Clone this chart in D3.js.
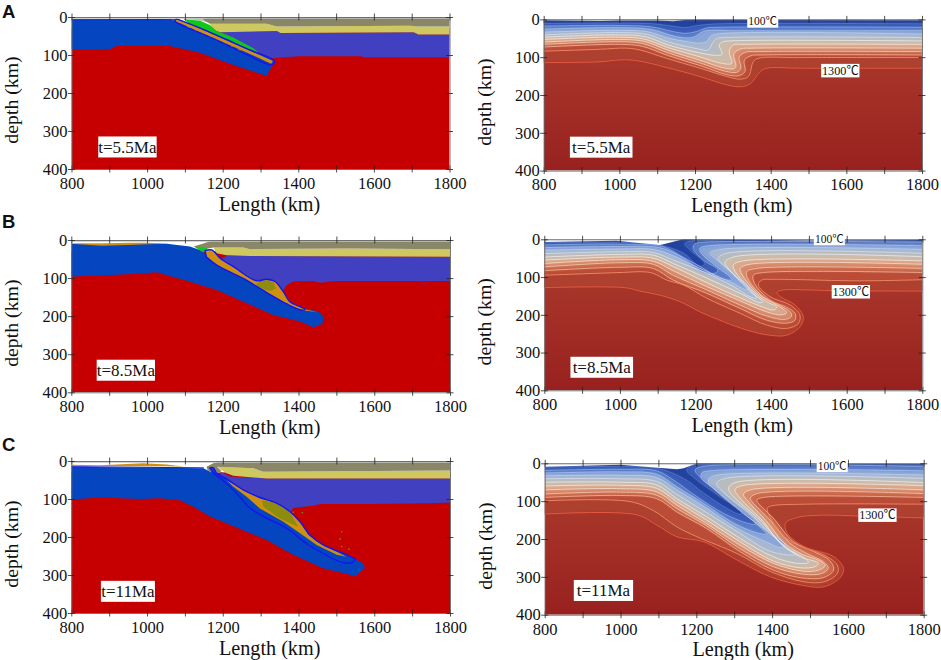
<!DOCTYPE html>
<html><head><meta charset="utf-8">
<script src="https://cdn.jsdelivr.net/npm/d3@7/dist/d3.min.js"></script>
<style>html,body{margin:0;padding:0;background:#fff}svg{display:block}</style>
</head><body><svg id="chart" width="941" height="660"></svg>
<script>
// ---------- axis values ----------
const xTicks = [800,900,1000,1100,1200,1300,1400,1500,1600,1700,1800];
const xLabels = [800,1000,1200,1400,1600,1800];
const depthTicks = [0,100,200,300,400];
const timesLabels = ["t=5.5Ma","t=8.5Ma","t=11Ma"];
const isoLabels = ["100℃","1300℃"];
const panelLetters = ["A","B","C"];

// ---------- composition panels: [length km, depth km] ----------
const purpleA = [[1193,40],[1343,37],[1353,42],[1705,40],[1718,46],[1800,46],[1800,106],[1572,106],[1568,103],[1405,103],[1360,106],[1320,110],[1250,80],[1190,50]];
const yellowA = [[1166,18],[1316,18],[1343,25],[1696,23],[1714,25],[1800,25],[1800,46],[1718,46],[1705,40],[1353,42],[1343,37],[1193,40],[1175,34]];
const lightA = [[1095,4],[1149,2],[1193,0],[1193,10],[1160,14],[1140,10]];
const greyA = [[1149,3],[1193,0],[1800,0],[1800,25],[1714,25],[1696,23],[1343,25],[1316,18],[1166,18],[1149,8]];
const blueA = [[800,7],[1040,6],[1090,8],[1150,36],[1210,65],[1270,90],[1335,115],[1332,126],[1316,155],[1270,140],[1228,126],[1140,94],[1060,76],[919,76],[901,85],[800,85]];
const greenA = [[1096,5],[1140,10],[1166,21],[1184,37],[1228,54],[1281,82],[1294,93],[1250,78],[1170,42],[1110,17]];
const orangeA = [[1065,7],[1085,7],[1150,35],[1210,62],[1270,88],[1333,116],[1328,123],[1265,94],[1200,66],[1140,40],[1090,17],[1075,12]];
const outlineA = [[1078,5],[1150,33],[1210,59],[1270,86],[1334,113],[1337,120],[1328,126],[1262,98],[1195,66],[1135,40],[1085,19],[1072,10]];
const dashA = [[1105,25],[1148,45],[1184,60],[1260,95]];
const surfaceLineA = [[800,7],[1078,7]];

const purpleB = [[1210,42],[1272,42],[1800,44],[1800,108],[1492,108],[1457,112],[1440,108],[1386,109],[1369,118],[1355,140],[1300,118],[1210,78],[1185,55]];
const yellowB = [[1175,20],[1254,20],[1272,24],[1536,22],[1800,24],[1800,44],[1272,42],[1210,40],[1184,35]];
const greyB = [[1122,17],[1149,9],[1175,0],[1800,0],[1800,24],[1536,22],[1272,24],[1254,20],[1175,20],[1150,24]];
const blueB = [[800,10],[1052,10],[1113,17],[1140,26],[1175,52],[1263,100],[1351,144],[1404,177],[1452,188],[1465,201],[1464,220],[1439,229],[1404,214],[1333,197],[1263,166],[1184,131],[1105,107],[1025,85],[964,89],[858,94],[800,96]];
const greenB = [[1125,18],[1145,18],[1160,22],[1155,32],[1145,30],[1135,24]];
const orangeB = [[1153,28],[1171,26],[1193,48],[1228,70],[1289,107],[1316,103],[1338,109],[1360,136],[1377,162],[1417,182],[1450,190],[1408,184],[1369,168],[1316,138],[1254,101],[1184,66],[1157,45]];
const oliveB = [[1285,118],[1300,108],[1320,106],[1335,112],[1340,128],[1325,134],[1310,130]];
const outlineB = [[1153,28],[1171,26],[1193,48],[1228,70],[1289,107],[1316,103],[1338,109],[1360,136],[1377,162],[1417,182],[1408,184],[1369,168],[1316,138],[1254,101],[1184,66],[1157,45]];
const sedimentB = [[800,9],[880,9],[950,7],[1000,7],[1060,10],[1000,11],[950,13],[880,15],[800,10]];
const speckB = [[1722,113],[1738,113],[1736,116],[1724,116]];

const purpleC = [[1195,28],[1219,41],[1316,46],[1800,46],[1800,109],[1740,111],[1580,113],[1457,113],[1439,118],[1386,123],[1377,140],[1340,125],[1250,85],[1190,50]];
const yellowC = [[1184,15],[1281,19],[1307,28],[1800,25],[1800,46],[1316,46],[1228,39],[1210,32],[1197,24]];
const greyC = [[1157,15],[1175,6],[1193,0],[1800,0],[1800,25],[1307,28],[1281,19],[1184,15],[1197,26],[1180,36],[1160,24]];
const blueC = [[800,15],[1149,19],[1175,32],[1267,103],[1369,177],[1492,243],[1545,256],[1571,269],[1575,282],[1558,296],[1553,304],[1523,296],[1465,282],[1386,247],[1316,208],[1263,186],[1166,146],[1131,125],[1087,103],[1034,98],[981,100],[876,96],[800,101]];
const orangeC = [[1210,50],[1254,76],[1298,98],[1342,111],[1377,133],[1404,160],[1426,195],[1465,221],[1527,252],[1501,247],[1448,221],[1404,190],[1360,160],[1298,125],[1263,94],[1228,68]];
const oliveC = [[1303,103],[1342,111],[1377,133],[1399,173],[1351,151],[1307,120]];
const outlineC = [[1166,18],[1175,18],[1184,32],[1210,47],[1254,76],[1298,96],[1342,111],[1377,133],[1404,160],[1430,195],[1465,221],[1527,247],[1549,260],[1536,269],[1509,265],[1465,243],[1421,217],[1369,177],[1307,146],[1267,120],[1245,94],[1210,59],[1175,32]];
const sedimentC = [[800,10],[876,11],[990,6],[1052,9],[1100,15],[1050,14],[900,14],[800,14]];
const surfaceLineC = [[800,15],[1150,18]];
const specksC = [[1514,186],[1510,205],[1514,225],[1533,232],[1386,135],[1410,136]];

// ---------- thermal panels: isotherms from coldest to 1300 C ----------
const isoA = [
 [[800,11],[1000,10],[1090,12],[1140,18],[1175,22],[1210,16],[1260,12],[1800,12]],
 [[800,18],[1000,16],[1085,20],[1140,32],[1175,37],[1205,32],[1230,23],[1270,21],[1800,21]],
 [[800,26],[1000,22],[1085,27],[1151,46],[1195,48],[1222,32],[1248,29],[1300,30],[1800,30]],
 [[800,34],[1000,29],[1075,33],[1130,50],[1178,59],[1213,63],[1233,58],[1240,46],[1258,39],[1800,39]],
 [[800,41],[1000,35],[1075,40],[1130,60],[1204,77],[1235,81],[1246,63],[1257,51],[1285,48],[1800,48]],
 [[800,47],[1000,41],[1070,46],[1130,68],[1210,88],[1255,95],[1272,92],[1264,68],[1272,60],[1292,57],[1800,57]],
 [[800,53],[1000,47],[1065,52],[1130,75],[1213,99],[1270,116],[1297,116],[1290,85],[1300,68],[1330,66],[1800,66]],
 [[800,60],[1000,53],[1065,58],[1130,82],[1213,108],[1275,128],[1303,130],[1308,122],[1302,92],[1320,78],[1350,76],[1800,76]],
 [[800,66],[1000,59],[1062,64],[1130,89],[1213,115],[1280,137],[1310,140],[1321,128],[1316,100],[1333,87],[1370,85],[1800,85]],
 [[800,73],[1000,66],[1060,71],[1130,96],[1213,122],[1284,146],[1315,149],[1332,138],[1330,108],[1348,96],[1380,94],[1800,94]],
 [[800,84],[949,79],[1019,76],[1055,81],[1125,103],[1213,129],[1284,151],[1319,158],[1341,151],[1354,112],[1367,103],[1477,101],[1800,101]],
 [[800,114],[949,112],[1002,107],[1046,109],[1125,127],[1213,151],[1284,173],[1319,178],[1345,171],[1372,138],[1389,129],[1477,129],[1800,129]]
];
const isoB = [
 [[800,9],[1000,8],[1088,12],[1168,37],[1203,68],[1216,72],[1225,64],[1186,28],[1172,12],[1194,4],[1300,6],[1800,6]],
 [[800,15],[1000,13],[1115,20],[1168,50],[1221,86],[1252,90],[1260,81],[1221,55],[1194,24],[1199,12],[1221,8],[1800,8]],
 [[800,22],[1000,19],[1088,20],[1124,28],[1212,72],[1265,103],[1296,108],[1291,99],[1256,72],[1216,37],[1212,24],[1238,17],[1800,17]],
 [[800,29],[1000,26],[1088,27],[1141,44],[1221,81],[1300,117],[1335,134],[1340,127],[1309,99],[1252,50],[1238,37],[1265,27],[1800,27]],
 [[800,38],[1000,33],[1088,35],[1141,55],[1230,90],[1300,125],[1344,152],[1362,156],[1358,148],[1318,108],[1265,59],[1260,50],[1283,37],[1800,37]],
 [[800,47],[1000,40],[1088,42],[1141,64],[1230,103],[1318,143],[1371,168],[1378,165],[1350,143],[1287,77],[1278,61],[1305,46],[1800,46]],
 [[800,55],[1000,47],[1088,50],[1141,72],[1230,115],[1318,155],[1380,180],[1406,187],[1415,180],[1388,165],[1358,143],[1305,86],[1300,68],[1327,57],[1800,57]],
 [[800,64],[1000,54],[1088,58],[1141,83],[1230,125],[1318,163],[1388,192],[1428,200],[1441,194],[1432,185],[1402,167],[1364,143],[1322,92],[1318,77],[1344,66],[1800,66]],
 [[800,73],[1000,62],[1088,66],[1141,95],[1230,134],[1318,174],[1388,203],[1437,212],[1454,203],[1450,192],[1424,176],[1384,156],[1340,108],[1335,86],[1362,77],[1800,77]],
 [[800,83],[1000,74],[1088,77],[1141,108],[1230,143],[1318,183],[1388,214],[1441,222],[1463,214],[1463,196],[1441,180],[1400,163],[1356,117],[1353,95],[1380,88],[1800,88]],
 [[800,95],[1000,88],[1062,86],[1088,90],[1124,108],[1168,121],[1230,156],[1318,196],[1388,227],[1441,236],[1472,223],[1476,200],[1450,174],[1397,152],[1366,121],[1375,108],[1406,106],[1635,110],[1800,107]],
 [[800,128],[1013,128],[1053,137],[1106,148],[1159,165],[1212,192],[1274,218],[1335,240],[1397,254],[1441,254],[1477,231],[1485,205],[1463,174],[1424,152],[1415,141],[1432,134],[1494,134],[1565,136],[1800,137]]
];
const isoC = [
 [[800,10],[1000,9],[1095,13],[1166,40],[1219,79],[1280,119],[1315,135],[1322,130],[1263,88],[1197,40],[1175,18],[1192,5],[1300,5],[1800,5]],
 [[800,19],[1000,16],[1095,20],[1139,44],[1201,88],[1271,132],[1333,158],[1357,161],[1351,150],[1289,101],[1219,44],[1197,18],[1214,9],[1800,9]],
 [[800,26],[1000,23],[1095,29],[1148,62],[1219,106],[1298,158],[1351,181],[1387,188],[1377,176],[1315,123],[1241,62],[1214,40],[1214,26],[1236,20],[1800,20]],
 [[800,33],[1000,32],[1095,38],[1148,70],[1227,119],[1307,172],[1386,209],[1425,223],[1434,214],[1403,190],[1335,141],[1255,75],[1232,50],[1235,40],[1258,31],[1800,31]],
 [[800,41],[1000,41],[1095,48],[1148,82],[1227,130],[1315,185],[1386,229],[1439,242],[1465,240],[1443,225],[1394,185],[1351,141],[1271,75],[1254,53],[1276,40],[1800,40]],
 [[800,50],[1000,50],[1095,57],[1148,93],[1227,141],[1315,198],[1403,247],[1465,264],[1496,262],[1487,251],[1439,225],[1403,189],[1368,150],[1298,88],[1285,66],[1302,51],[1800,51]],
 [[800,60],[1000,58],[1095,66],[1148,101],[1227,150],[1315,207],[1403,258],[1474,276],[1513,273],[1522,264],[1474,247],[1421,211],[1377,154],[1315,92],[1302,70],[1320,59],[1800,59]],
 [[800,70],[1000,67],[1095,75],[1148,110],[1227,159],[1315,216],[1403,264],[1483,285],[1522,282],[1540,270],[1526,258],[1474,238],[1430,209],[1386,154],[1337,101],[1324,82],[1342,70],[1800,70]],
 [[800,81],[1000,76],[1095,84],[1148,119],[1227,165],[1315,225],[1403,273],[1483,293],[1531,291],[1548,277],[1535,260],[1491,238],[1447,211],[1394,150],[1351,106],[1342,92],[1359,80],[1800,80]],
 [[800,90],[1000,85],[1095,93],[1148,128],[1227,172],[1315,233],[1403,282],[1474,302],[1535,302],[1562,282],[1553,258],[1509,233],[1456,207],[1403,145],[1364,106],[1359,97],[1377,90],[1800,90]],
 [[800,99],[1025,101],[1087,125],[1149,168],[1202,194],[1307,238],[1396,286],[1484,313],[1537,313],[1572,291],[1572,269],[1537,242],[1467,216],[1422,185],[1387,119],[1396,113],[1484,108],[1800,108]],
 [[800,134],[1043,136],[1096,163],[1149,194],[1219,207],[1307,255],[1396,300],[1484,323],[1537,326],[1581,300],[1588,277],[1563,247],[1484,220],[1440,185],[1435,158],[1466,143],[1528,137],[1650,140],[1800,144]]
];
const surfaceA = [[800,2],[950,4],[1000,3],[1100,3],[1143,5],[1178,1],[1800,2]];
const surfaceB = [[800,7],[991,4],[1106,15],[1123,11],[1167,0],[1500,3],[1800,2]];
const surfaceC = [[800,9],[999,4],[1149,16],[1167,13],[1202,0],[1800,2]];

// ---------- styling ----------
const C = {red:"#c60000",blue:"#0545c0",purple:"#4040c0",yellow:"#cfc860",grey:"#8a8668",light:"#c2c0b4",green:"#10c818",orange:"#d0900f",olive:"#8e8c0e",line:"#1414f4"};
const bandColors = ["#ad3f2e","#bb4e38","#cb6a4e","#d88a6c","#dca88c","#ccbcaa","#b8bcc0","#a8b8d0","#8aa5d8","#5a7dc8","#3a5cb8","#24429f"]; // hottest region first
const lineColors = ["#5a7fd0","#8fb0ea","#a8c4f0","#bcd2f4","#d6e2f6","#eef0f2","#f4efe8","#f8e4d6","#f8d0b8","#f6b598","#f08a68","#e85c42"];
const lineOpacity = [.82,.82,.82,.82,.82,.82,.82,.82,.82,.9,1,1];
const serif = "'Liberation Serif','Noto Sans CJK SC',serif";

const panels = [
 {kind:"comp",x0:71.5,x1:449.5,y0:17,y1:169,row:0,t:[948,342],tw:58.4,
  purple:purpleA,yellow:yellowA,light:lightA,grey:greyA,blue:blueA,green:greenA,orange:orangeA,outline:outlineA,dash:dashA,sline:surfaceLineA},
 {kind:"heat",x0:543.7,x1:922,y0:19.4,y1:170.6,row:0,t:[952,338],tw:62.6,iso:isoA,surf:surfaceA,l100:[1379,5],l1300:[1584,135.5]},
 {kind:"comp",x0:71.3,x1:450,y0:240,y1:392.3,row:1,t:[944,342],tw:58.3,
  purple:purpleB,yellow:yellowB,grey:greyB,blue:blueB,green:greenB,orange:orangeB,olive:oliveB,outline:outlineB,sediment:sedimentB,speck:speckB},
 {kind:"heat",x0:544.3,x1:922.3,y0:239.3,y1:390.3,row:1,t:[952,339],tw:62.6,iso:isoB,surf:surfaceB,l100:[1554,-1],l1300:[1611,139]},
 {kind:"comp",x0:71.3,x1:450,y0:461,y1:613,row:2,t:[949.5,343],tw:54,
  purple:purpleC,yellow:yellowC,grey:greyC,blue:blueC,orange:orangeC,olive:oliveC,outline:outlineC,sediment:sedimentC,sline:surfaceLineC,specks:specksC},
 {kind:"heat",x0:544.7,x1:923.7,y0:463.3,y1:614.7,row:2,t:[955,336],tw:59.3,iso:isoC,surf:surfaceC,l100:[1558.6,6.6],l1300:[1678,137]}
];

const svg = d3.select("#chart");
const defs = svg.append("defs");
const grad = defs.append("linearGradient").attr("id","hot").attr("x1",0).attr("x2",0).attr("y1",0).attr("y2",1);
grad.append("stop").attr("offset","0%").attr("stop-color","#ae3e2e");
grad.append("stop").attr("offset","100%").attr("stop-color","#98211f");
defs.append("filter").attr("id","soft").attr("x","-5%").attr("y","-20%").attr("width","110%").attr("height","140%")
  .append("feGaussianBlur").attr("stdDeviation",1.3);

panels.forEach((p,i)=>{
  const x = d3.scaleLinear().domain([800,1800]).range([p.x0,p.x1]);
  const y = d3.scaleLinear().domain([0,400]).range([p.y0,p.y1]);
  const g = svg.append("g");
  const clipId = "clip"+i;
  defs.append("clipPath").attr("id",clipId).append("rect")
    .attr("x",p.x0).attr("y",p.y0).attr("width",p.x1-p.x0).attr("height",p.y1-p.y0);
  const plot = g.append("g").attr("clip-path",`url(#${clipId})`);
  const straight = d3.line().x(d=>x(d[0])).y(d=>y(d[1]));
  const smooth = d3.line().x(d=>x(d[0])).y(d=>y(d[1])).curve(d3.curveCatmullRom.alpha(0.5));
  const poly = (pts,fill)=>plot.append("path").attr("d",straight(pts)+"Z").attr("fill",fill);

  if(p.kind==="comp"){
    plot.append("rect").attr("x",x(800)).attr("y",y(30)).attr("width",x(1800)-x(800)).attr("height",y(400)-y(30)).attr("fill",C.red);
    poly(p.purple,C.purple); poly(p.yellow,C.yellow);
    if(p.light) poly(p.light,C.light);
    poly(p.grey,C.grey); poly(p.blue,C.blue);
    if(p.sediment) poly(p.sediment,C.orange);
    if(p.speck) poly(p.speck,C.blue);
    if(p.green) poly(p.green,C.green);
    if(p.sline) plot.append("path").attr("d",straight(p.sline)).attr("fill","none").attr("stroke",C.line).attr("stroke-width",1);
    plot.append("path").attr("d",smooth(p.outline)+"Z").attr("fill",C.blue);
    poly(p.orange,C.orange);
    if(p.olive) poly(p.olive,C.olive);
    if(p.dash) plot.append("path").attr("d",straight(p.dash)).attr("fill","none").attr("stroke",C.orange).attr("stroke-width",1.2).attr("stroke-dasharray","3,5");
    plot.append("path").attr("d",smooth(p.outline)+"Z").attr("fill","none").attr("stroke",C.line).attr("stroke-width",1.4);
    if(p.specks) plot.selectAll("circle.sp").data(p.specks).join("circle").attr("cx",d=>x(d[0])).attr("cy",d=>y(d[1])).attr("r",0.8).attr("fill",C.olive);
    plot.append("line").attr("x1",x(800)).attr("x2",x(1800)).attr("y1",y(0)+1).attr("y2",y(0)+1).attr("stroke","#c4c4c4").attr("stroke-width",1.6);
  } else {
    plot.append("rect").attr("x",x(800)).attr("y",y(0)).attr("width",x(1800)-x(800)).attr("height",y(400)-y(0)).attr("fill","url(#hot)");
    const fills = plot.append("g").attr("filter","url(#soft)");
    const region = c=>{
      const a=c[0], b=c[c.length-1];
      return smooth(c)+`L${x(1830)},${y(b[1])}L${x(1830)},${y(-40)}L${x(770)},${y(-40)}L${x(770)},${y(a[1])}Z`;
    };
    p.iso.slice().reverse().forEach((c,k)=>fills.append("path").attr("d",region(c)).attr("fill",bandColors[k]));
    p.iso.forEach((c,k)=>plot.append("path").attr("d",smooth(c)).attr("fill","none").attr("stroke",lineColors[k]).attr("stroke-width",0.9).attr("stroke-opacity",lineOpacity[k]));
    plot.append("path").attr("d",straight(p.surf)+`L${x(1830)},${y(-40)}L${x(770)},${y(-40)}Z`).attr("fill","#fff");
  }

  // axes
  const cross = (sel,a1,a2)=>sel.selectAll(".tick line").attr(a1,-3.5).attr(a2,3.5);
  const fmt = d=>xLabels.includes(d)?d:"";
  const styleAxis = a=>{
    a.attr("font-family",serif).attr("font-size",16.5);
    a.select(".domain").attr("stroke","#666").attr("stroke-width",0.9);
    a.selectAll(".tick line").attr("stroke","#222").attr("stroke-width",0.8);
    a.selectAll("text").attr("fill","#111");
  };
  const axB = g.append("g").attr("transform",`translate(0,${p.y1})`).call(d3.axisBottom(x).tickValues(xTicks).tickFormat(fmt).tickSize(3.5).tickSizeOuter(0).tickPadding(4.6));
  const axT = g.append("g").attr("transform",`translate(0,${p.y0})`).call(d3.axisTop(x).tickValues(xTicks).tickFormat("").tickSize(3.5).tickSizeOuter(0));
  const axL = g.append("g").attr("transform",`translate(${p.x0},0)`).call(d3.axisLeft(y).tickValues(depthTicks).tickSize(3.5).tickSizeOuter(0).tickPadding(0.5));
  const axR = g.append("g").attr("transform",`translate(${p.x1},0)`).call(d3.axisRight(y).tickValues(depthTicks).tickFormat("").tickSize(3.5).tickSizeOuter(0));
  [axB,axT].forEach(a=>{styleAxis(a);cross(a,"y1","y2");});
  [axL,axR].forEach(a=>{styleAxis(a);cross(a,"x1","x2");});

  // titles
  g.append("text").attr("x",(p.x0+p.x1)/2+9).attr("y",p.y1+41.5).attr("text-anchor","middle")
    .attr("font-family",serif).attr("font-size",20.2).attr("fill","#111").text("Length (km)");
  const lx=p.x0-(p.kind==="comp"?53.5:53), ly=(p.y0+p.y1)/2+7;
  g.append("text").attr("transform",`translate(${lx},${ly}) rotate(-90)`).attr("text-anchor","middle")
    .attr("font-family",serif).attr("font-size",19.8).attr("fill","#111").text("depth (km)");

  // in-plot labels
  const box=(d,w,h,txt,fs)=>{
    const cx=x(d[0]), cy=y(d[1]);
    g.append("rect").attr("x",cx-w/2).attr("y",cy-h/2).attr("width",w).attr("height",h).attr("fill","#fff");
    g.append("text").attr("x",cx).attr("y",cy).attr("dy","0.34em").attr("text-anchor","middle")
      .attr("font-family",serif).attr("font-size",fs).attr("fill","#111").text(txt);
  };
  box(p.t,p.tw,21,timesLabels[p.row],17);
  if(p.kind==="heat"){ box(p.l100,31,12.7,isoLabels[0],11.5); box(p.l1300,38.3,13.5,isoLabels[1],12.2); }
});

// panel letters
[18,228,451].forEach((b,i)=>svg.append("text").attr("x",2).attr("y",b)
  .attr("font-family","'Liberation Sans',sans-serif").attr("font-weight","bold").attr("font-size",18.5).attr("fill","#111").text(panelLetters[i]));
</script></body></html>
